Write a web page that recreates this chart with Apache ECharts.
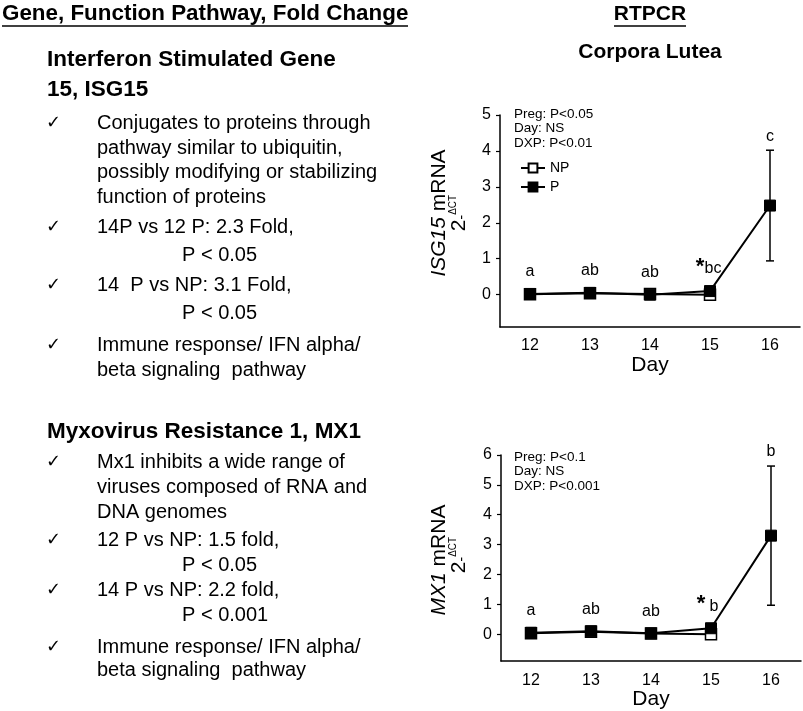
<!DOCTYPE html>
<html><head><meta charset="utf-8">
<script src="https://cdn.jsdelivr.net/npm/echarts@6/dist/echarts.min.js"></script>
<style>html,body{margin:0;padding:0;background:#fff}#c{width:803px;height:711px}</style>
</head><body><div id="c"></div>
<script>
// ---- data ----
const days = ['12', '13', '14', '15', '16'];
const isgP = [0.02, 0.05, 0.00, 0.10, 2.48];
const isgNP = [0.01, 0.04, 0.02, 0.00, null];
const isgPErr = [0, 0, 0, 0, 1.54];
const isgLetters = ['a', 'ab', 'ab', 'bc', 'c'];
const isgStar = [false, false, false, true, false];
const isgStats = ['Preg: P<0.05', 'Day: NS', 'DXP: P<0.01'];

const mx1P = [0.05, 0.10, 0.03, 0.20, 3.30];
const mx1NP = [0.03, 0.08, 0.02, 0.00, null];
const mx1PErr = [0, 0, 0, 0, 2.33];
const mx1Letters = ['a', 'ab', 'ab', 'b', 'b'];
const mx1Star = [false, false, false, true, false];
const mx1Stats = ['Preg: P<0.1', 'Day: NS', 'DXP: P<0.001'];

const yTicksTop = [0, 1, 2, 3, 4, 5];
const yTicksBottom = [0, 1, 2, 3, 4, 5, 6];

const FONT = '"Liberation Sans", Arial, Helvetica, sans-serif';

const chart = echarts.init(document.getElementById('c'), null, {renderer: 'canvas'});

function xAxisDef(gi) {
  return {
    type: 'category', gridIndex: gi, data: days, boundaryGap: true,
    axisLine: {onZero: false, lineStyle: {color: '#000', width: 1.5}},
    axisTick: {alignWithLabel: true, length: 4, lineStyle: {color: '#000', width: 1.2}},
    axisLabel: {color: '#000', fontSize: 16, fontFamily: FONT, margin: 11},
    name: 'Day', nameLocation: 'middle', nameGap: 25,
    nameTextStyle: {color: '#000', fontSize: 21, fontFamily: FONT},
    splitLine: {show: false}
  };
}
function yAxisDef(gi, max, ticks) {
  return {
    type: 'value', gridIndex: gi, min: -0.9, max: max,
    axisLine: {show: true, onZero: false, lineStyle: {color: '#000', width: 1.5}},
    axisTick: {show: true, length: 4, customValues: ticks, lineStyle: {color: '#000', width: 1.2}},
    axisLabel: {color: '#000', fontSize: 16, fontFamily: FONT, margin: 9, customValues: ticks},
    splitLine: {show: false}
  };
}

function errRender(params, api) {
  const i = api.value(0), v = api.value(1), e = api.value(2);
  if (!e) return;
  const hi = api.coord([i, v + e]);
  const lo = api.coord([i, v - e]);
  const cw = 4;
  const st = {stroke: '#000', lineWidth: 1.5};
  return {type: 'group', children: [
    {type: 'line', shape: {x1: hi[0], y1: hi[1], x2: lo[0], y2: lo[1]}, style: st},
    {type: 'line', shape: {x1: hi[0] - cw, y1: hi[1], x2: hi[0] + cw, y2: hi[1]}, style: st},
    {type: 'line', shape: {x1: lo[0] - cw, y1: lo[1], x2: lo[0] + cw, y2: lo[1]}, style: st}
  ]};
}
function letterRender(letters, stars) {
  return function (params, api) {
    const i = api.value(0), v = api.value(1), e = api.value(2);
    const p = api.coord([i, v]);
    let y;
    if (e) y = api.coord([i, v + e])[1] - 14; else y = p[1] - 22;
    const children = [{type: 'text', x: p[0] + (stars[i] ? 3 : 0), y: y,
      style: {text: letters[i], fill: '#000', font: '16px ' + FONT, align: 'center', verticalAlign: 'middle'}}];
    if (stars[i]) {
      children.push({type: 'text', x: p[0] - 10, y: y - 2,
        style: {text: '*', fill: '#000', font: 'bold 22px ' + FONT, align: 'center', verticalAlign: 'middle'}});
    }
    return {type: 'group', children: children};
  };
}

function makeSeries(gi, P, NP, err, letters, stars) {
  const common = {type: 'line', xAxisIndex: gi, yAxisIndex: gi, symbol: 'rect', symbolSize: 11,
    lineStyle: {color: '#000', width: 2}, animation: false};
  return [
    Object.assign({}, common, {name: 'NP', data: NP, z: 2,
      itemStyle: {color: '#fff', borderColor: '#000', borderWidth: 1.5}}),
    Object.assign({}, common, {name: 'P', data: P, z: 3,
      itemStyle: {color: '#000', borderColor: '#000', borderWidth: 1}}),
    {type: 'custom', xAxisIndex: gi, yAxisIndex: gi, z: 1, renderItem: errRender,
      data: days.map((d, i) => [i, P[i], err[i]]), animation: false, silent: true},
    {type: 'custom', xAxisIndex: gi, yAxisIndex: gi, z: 4, renderItem: letterRender(letters, stars),
      data: days.map((d, i) => [i, P[i], err[i]]), animation: false, silent: true}
  ];
}

// ---- left text panel ----
const g = [];
function txt(x, y, s, size, bold) {
  g.push({type: 'text', x: x, y: y, style: {text: s, fill: '#000',
    font: (bold ? 'bold ' : '') + size + 'px ' + FONT, verticalAlign: 'middle'}});
}
function check(y) {
  g.push({type: 'text', x: 46, y: y, style: {text: '✓', fill: '#000',
    font: '18px "DejaVu Sans", sans-serif', verticalAlign: 'middle'}});
}
txt(2, 14, 'Gene, Function Pathway, Fold Change', 22.4, true);
g.push({type: 'line', shape: {x1: 2, y1: 26, x2: 408, y2: 26}, style: {stroke: '#000', lineWidth: 1.5}});
txt(47, 60, 'Interferon Stimulated Gene', 22.5, true);
txt(47, 90, '15, ISG15', 22.5, true);
check(123); txt(97, 123, 'Conjugates to proteins through', 20);
txt(97, 148, 'pathway similar to ubiquitin,', 20);
txt(97, 172, 'possibly modifying or stabilizing', 20);
txt(97, 197, 'function of proteins', 20);
check(227); txt(97, 227, '14P vs 12 P: 2.3 Fold,', 20);
txt(182, 255, 'P < 0.05', 20);
check(285); txt(97, 285, '14  P vs NP: 3.1 Fold,', 20);
txt(182, 313, 'P < 0.05', 20);
check(345); txt(97, 345, 'Immune response/ IFN alpha/', 20);
txt(97, 370, 'beta signaling  pathway', 20);
txt(47, 432, 'Myxovirus Resistance 1, MX1', 22.5, true);
check(462); txt(97, 462, 'Mx1 inhibits a wide range of', 20);
txt(97, 487, 'viruses composed of RNA and', 20);
txt(97, 512, 'DNA genomes', 20);
check(540); txt(97, 540, '12 P vs NP: 1.5 fold,', 20);
txt(182, 565, 'P < 0.05', 20);
check(590); txt(97, 590, '14 P vs NP: 2.2 fold,', 20);
txt(182, 615, 'P < 0.001', 20);
check(647); txt(97, 647, 'Immune response/ IFN alpha/', 20);
txt(97, 670, 'beta signaling  pathway', 20);

// right headers
g.push({type: 'text', x: 650, y: 14, style: {text: 'RTPCR', fill: '#000', font: 'bold 21px ' + FONT, align: 'center', verticalAlign: 'middle'}});
g.push({type: 'line', shape: {x1: 614, y1: 26, x2: 686, y2: 26}, style: {stroke: '#000', lineWidth: 1.5}});
g.push({type: 'text', x: 650, y: 52, style: {text: 'Corpora Lutea', fill: '#000', font: 'bold 21px ' + FONT, align: 'center', verticalAlign: 'middle'}});

// stats text
function stats(lines, x, y0) {
  lines.forEach((s, k) => g.push({type: 'text', x: x, y: y0 + k * 14.5,
    style: {text: s, fill: '#000', font: '13.5px ' + FONT, verticalAlign: 'middle'}}));
}
stats(isgStats, 514, 114);
stats(mx1Stats, 514, 457);

// y-axis names (rotated)
function yname(gene, cx, cy) {
  g.push({type: 'text', x: cx, y: cy, rotation: Math.PI / 2,
    style: {text: '{i|' + gene + '}{n| mRNA}', align: 'center', verticalAlign: 'middle', fill: '#000',
      rich: {i: {fontStyle: 'italic', fontSize: 21, fontFamily: FONT, fill: '#000'},
             n: {fontSize: 21, fontFamily: FONT, fill: '#000'}}}});
}
function yname2(cx, cy) {
  g.push({type: 'text', x: cx, y: cy, rotation: Math.PI / 2,
    style: {text: '{n|2}{s|-}{d|ΔCT}', align: 'center', verticalAlign: 'middle', fill: '#000',
      rich: {n: {fontSize: 21, fontFamily: FONT, fill: '#000'},
             s: {fontSize: 14, fontFamily: FONT, fill: '#000', verticalAlign: 'bottom'},
             d: {fontSize: 10, fontFamily: FONT, fill: '#000', verticalAlign: 'top'}}}});
}
yname('ISG15', 439, 213); yname2(459, 213);
yname('MX1', 439, 560); yname2(459, 555);

const option = {
  backgroundColor: '#fff',
  animation: false,
  grid: [
    {left: 500, top: 115, width: 300, height: 212},
    {left: 501, top: 455, width: 300, height: 208}
  ],
  xAxis: [xAxisDef(0), xAxisDef(1)],
  yAxis: [yAxisDef(0, 5, yTicksTop), yAxisDef(1, 6, yTicksBottom)],
  legend: {
    data: ['NP', 'P'], orient: 'vertical', left: 515, top: 156, itemGap: 5,
    itemWidth: 24, itemHeight: 11,
    textStyle: {color: '#000', fontSize: 14, fontFamily: FONT},
    selectedMode: false
  },
  series: [].concat(
    makeSeries(0, isgP, isgNP, isgPErr, isgLetters, isgStar),
    makeSeries(1, mx1P, mx1NP, mx1PErr, mx1Letters, mx1Star)
  ),
  graphic: g
};
chart.setOption(option);
</script>
</body></html>
